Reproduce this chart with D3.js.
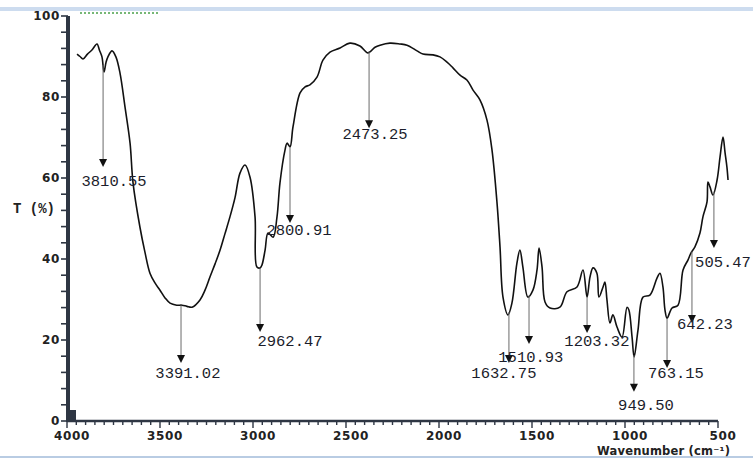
<!DOCTYPE html>
<html>
<head>
<meta charset="utf-8">
<script src="https://cdn.jsdelivr.net/npm/d3@7"></script>
<style>
  html, body { margin: 0; padding: 0; background: #fff; }
  svg { display: block; }
</style>
</head>
<body>
<svg id="chart" width="753" height="459"></svg>
<script>
// ---------- data ----------
const wavenumber = [3946,3930,3914,3890,3866,3839,3825,3812,3801,3790,3780,3758,3737,3715,3688,3661,3645,3608,3581,3554,3527,3500,3473,3446,3410,3382,3355,3328,3285,3258,3231,3204,3177,3151,3124,3097,3070,3043,3016,2989,2979,2962,2952,2935,2919,2892,2871,2855,2828,2817,2801,2785,2747,2720,2694,2656,2624,2586,2532,2479,2425,2382,2344,2317,2264,2210,2172,2118,2086,2032,1995,1957,1925,1887,1850,1817,1780,1742,1715,1688,1672,1656,1629,1608,1581,1565,1549,1522,1495,1473,1462,1446,1430,1403,1350,1312,1258,1226,1204,1188,1172,1151,1140,1118,1108,1097,1081,1065,1043,1016,989,979,962,951,930,903,866,828,812,796,785,774,747,715,688,661,645,624,597,581,559,554,543,527,505,489,473,462,452,446];
const transmittance = [90.6,90.0,89.4,90.6,91.6,93.1,91.5,89.9,86.2,88.6,89.9,91.4,89.9,85.9,77.5,68.6,58.8,47.9,41.7,36.5,34.1,32.3,30.4,29.1,28.6,28.6,28.3,28.1,29.9,32.3,35.6,38.8,42.2,46.2,50.4,55.1,61.2,63.2,60.2,50.4,38.0,37.8,38.5,42.2,46.4,45.4,50.4,58.8,66.9,68.6,67.7,72.6,81.0,82.5,83.0,84.9,89.1,91.1,92.1,93.3,92.6,90.9,92.3,92.8,93.3,93.1,92.8,91.4,90.6,90.4,89.9,88.6,87.2,85.4,84.2,81.7,79.3,74.3,66.9,53.8,43.0,30.6,26.2,29.1,39.0,42.2,38.0,30.6,32.3,37.3,42.7,38.0,29.4,27.9,28.1,31.9,33.1,37.3,30.6,35.6,37.8,36.5,30.6,33.1,34.3,29.9,24.2,26.2,23.2,20.7,28.1,27.4,20.7,15.8,22.5,30.6,31.1,35.3,36.5,33.1,27.4,25.4,27.9,28.6,37.3,39.8,41.5,43.0,46.4,50.4,54.1,59.0,57.8,55.8,59.5,65.2,70.1,66.2,62.7,59.5];

const peakNames   = ["3810.55","3391.02","2962.47","2800.91","2473.25","1632.75","1510.93","1203.32","949.50","763.15","642.23","505.47"];
const peakArrowWn = [3806,3387,2962,2801,2376,1624,1516,1204,952,774,640,522];
const peakTipT    = [62.7,14.3,22.0,48.9,72.3,14.3,19.0,21.7,7.2,13.1,24.2,42.7];
const peakLabelWn = [3747,3350,2801,2753,2344,1651,1506,1151,887,726,570,473];
const peakLabelT  = [59.3,12.1,19.8,47.4,70.9,12.1,16.0,20.0,4.2,12.1,24.0,39.3];

const xTickLabels = [4000,3500,3000,2500,2000,1500,1000,500];
const yTickLabels = [0,20,40,60,80,100];
const yAxisTitle = "T (%)";
const xAxisTitle = "Wavenumber (cm⁻¹)";

// ---------- drawing ----------
const svg = d3.select("#chart");
const W = 753, H = 459;
const x = d3.scaleLinear().domain([4000, 500]).range([67, 718]);
const y = d3.scaleLinear().domain([0, 100]).range([421, 16]);
const axisColor = "#2e3643";
const tickFont = "'DejaVu Sans', Verdana, sans-serif";
const monoFont = "'Liberation Mono', 'Courier New', monospace";

// window chrome
svg.append("rect").attr("x",0).attr("y",0).attr("width",W).attr("height",H).attr("fill","#fff");
svg.append("rect").attr("x",0).attr("y",7).attr("width",W).attr("height",4).attr("fill","#cddcef");
svg.append("line").attr("x1",0).attr("x2",W).attr("y1",457).attr("y2",457)
   .attr("stroke","#b9cce3").attr("stroke-width",2);
svg.append("line").attr("x1",80).attr("x2",158).attr("y1",13).attr("y2",13)
   .attr("stroke","#4aa04a").attr("stroke-width",1.5).attr("stroke-dasharray","2,2");

// y ticks (every 4 units) on the left of the axis bar
const yTicks = d3.range(0, 101, 4);
svg.append("g").selectAll("line").data(yTicks).join("line")
  .attr("x1", 61).attr("x2", 68)
  .attr("y1", d => y(d)).attr("y2", d => y(d))
  .attr("stroke", axisColor).attr("stroke-width", 1.6);
svg.append("g").selectAll("text").data(yTickLabels).join("text")
  .attr("x", 60).attr("y", d => y(d)).attr("dy", "0.36em")
  .attr("text-anchor", "end")
  .attr("font-family", tickFont).attr("font-weight", "bold").attr("font-size", 12)
  .attr("letter-spacing", 0.6).attr("fill", "#222")
  .text(d => d);
svg.append("text").attr("x", 13).attr("y", 208).attr("dy", "0.36em")
  .attr("font-family", monoFont).attr("font-weight", "bold").attr("font-size", 14)
  .attr("fill", "#222").text(yAxisTitle);

// x ticks every 50 units
const xTicks = d3.range(500, 4001, 50);
svg.append("g").selectAll("line").data(xTicks).join("line")
  .attr("x1", d => x(d)).attr("x2", d => x(d))
  .attr("y1", 421).attr("y2", d => d % 500 === 0 ? 428 : 425)
  .attr("stroke", axisColor).attr("stroke-width", 1.4);
svg.append("g").selectAll("text").data(xTickLabels).join("text")
  .attr("x", d => x(d) + 5).attr("y", 440)
  .attr("text-anchor", "middle")
  .attr("font-family", tickFont).attr("font-weight", "bold").attr("font-size", 12)
  .attr("letter-spacing", 0.6).attr("fill", "#222")
  .text(d => d);
svg.append("text").attr("x", 597).attr("y", 455)
  .attr("font-family", tickFont).attr("font-weight", "bold").attr("font-size", 11.5)
  .attr("letter-spacing", 0.2)
  .attr("fill", "#222").text(xAxisTitle);

// axis bars
svg.append("rect").attr("x", 66).attr("y", y(100)).attr("width", 4).attr("height", y(0) - y(100) + 1)
  .attr("fill", axisColor);
svg.append("line").attr("x1", x(4000)).attr("x2", x(500)).attr("y1", 421).attr("y2", 421)
  .attr("stroke", axisColor).attr("stroke-width", 2.5);
svg.append("rect").attr("x", 67).attr("y", 410).attr("width", 9).attr("height", 11).attr("fill", axisColor);

// spectrum
const pts = wavenumber.map((w, i) => [w, transmittance[i]]);
svg.append("path").datum(pts)
  .attr("d", d3.line().x(d => x(d[0])).y(d => y(d[1])).curve(d3.curveCatmullRom.alpha(0.5)))
  .attr("fill", "none").attr("stroke", "#111").attr("stroke-width", 1.6)
  .attr("stroke-linejoin", "round");

// curve value at a given wavenumber (linear interpolation)
function curveAt(w) {
  for (let i = 0; i < pts.length - 1; i++) {
    const a = pts[i], b = pts[i + 1];
    if ((w <= a[0] && w >= b[0])) {
      const t = (a[0] - w) / (a[0] - b[0]);
      return a[1] + t * (b[1] - a[1]);
    }
  }
  return pts[pts.length - 1][1];
}

// peak annotations
const ann = svg.append("g");
peakNames.forEach((name, i) => {
  const ax = x(peakArrowWn[i]);
  const y0 = y(curveAt(peakArrowWn[i]));
  const yt = y(peakTipT[i]);
  ann.append("line").attr("x1", ax).attr("x2", ax).attr("y1", y0).attr("y2", yt - 6)
    .attr("stroke", "#6a6a6a").attr("stroke-width", 1);
  ann.append("path")
    .attr("d", `M${ax - 4},${yt - 8} L${ax + 4},${yt - 8} L${ax},${yt} Z`)
    .attr("fill", "#111");
  ann.append("text").attr("x", x(peakLabelWn[i])).attr("y", y(peakLabelT[i])).attr("dy", "0.36em")
    .attr("text-anchor", "middle")
    .attr("font-family", monoFont).attr("font-size", 15.5).attr("fill", "#1b1d2b")
    .text(name);
});
</script>
</body>
</html>
